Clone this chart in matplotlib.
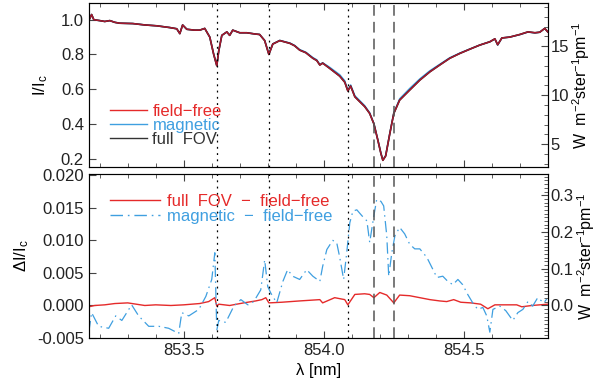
import numpy as np
import matplotlib
matplotlib.use("Agg")
import matplotlib.pyplot as plt
from matplotlib.lines import Line2D
from matplotlib.ticker import MultipleLocator

plt.rcParams["font.family"] = ["Liberation Sans", "DejaVu Sans"]
plt.rcParams["font.size"] = 12
plt.rcParams["mathtext.fontset"] = "custom"
plt.rcParams["mathtext.rm"] = "Liberation Sans"
plt.rcParams["mathtext.it"] = "Liberation Sans"

# continuum intensity used for the right-hand axes (W m^-2 ster^-1 pm^-1)
i_cont = 17.7

# line positions marked in both panels [nm]
dotted_lines = [853.618, 853.804, 854.086]
dashed_lines = [854.179, 854.250]

# upper panel: mean profiles, I/Ic
wl_top = [853.161, 853.164, 853.171, 853.179, 853.200, 853.218, 853.236, 853.254,
          853.271, 853.318, 853.361, 853.404, 853.450, 853.475, 853.486, 853.496,
          853.511, 853.539, 853.557, 853.575, 853.593, 853.607, 853.618, 853.625,
          853.636, 853.654, 853.664, 853.675, 853.700, 853.725, 853.754, 853.771,
          853.789, 853.804, 853.818, 853.843, 853.879, 853.896, 853.914, 853.936,
          853.961, 853.975, 853.986, 853.996, 854.021, 854.057, 854.075, 854.086,
          854.096, 854.111, 854.129, 854.146, 854.164, 854.179, 854.193, 854.204,
          854.211, 854.221, 854.236, 854.250, 854.271, 854.307, 854.343, 854.379,
          854.414, 854.450, 854.486, 854.521, 854.557, 854.593, 854.611, 854.621,
          854.636, 854.664, 854.700, 854.729, 854.754, 854.771, 854.789, 854.800]
i_field_free = [1.000, 1.005, 1.030, 1.000, 0.995, 0.990, 0.995, 0.985,
                0.980, 0.978, 0.970, 0.965, 0.955, 0.948, 0.920, 0.970,
                0.945, 0.940, 0.940, 0.950, 0.900, 0.800, 0.735, 0.820,
                0.910, 0.930, 0.910, 0.940, 0.925, 0.925, 0.918, 0.915,
                0.880, 0.800, 0.860, 0.880, 0.864, 0.850, 0.825, 0.810,
                0.778, 0.765, 0.739, 0.750, 0.720, 0.675, 0.640, 0.590,
                0.618, 0.556, 0.527, 0.500, 0.460, 0.400, 0.307, 0.230,
                0.190, 0.215, 0.345, 0.460, 0.537, 0.595, 0.652, 0.700,
                0.739, 0.778, 0.806, 0.830, 0.854, 0.873, 0.890, 0.856,
                0.895, 0.900, 0.915, 0.930, 0.925, 0.928, 0.950, 0.930]
i_magnetic = [1.000, 1.005, 1.030, 1.000, 0.995, 0.990, 0.995, 0.985,
              0.980, 0.978, 0.970, 0.965, 0.955, 0.948, 0.920, 0.970,
              0.945, 0.940, 0.940, 0.950, 0.900, 0.802, 0.737, 0.820,
              0.910, 0.930, 0.910, 0.940, 0.925, 0.925, 0.918, 0.915,
              0.881, 0.802, 0.861, 0.881, 0.866, 0.852, 0.828, 0.813,
              0.782, 0.769, 0.742, 0.752, 0.726, 0.683, 0.648, 0.592,
              0.624, 0.562, 0.533, 0.505, 0.464, 0.402, 0.309, 0.232,
              0.192, 0.217, 0.347, 0.462, 0.544, 0.604, 0.659, 0.706,
              0.743, 0.781, 0.808, 0.831, 0.854, 0.873, 0.889, 0.854,
              0.895, 0.900, 0.914, 0.929, 0.924, 0.928, 0.950, 0.930]
# full FOV differs from field-free by less than the line width
i_full_fov = list(i_field_free)

# lower panel: differences, dI/Ic
wl_full = [853.161, 853.182, 853.218, 853.254, 853.300, 853.361, 853.400, 853.454,
           853.500, 853.557, 853.589, 853.611, 853.618, 853.625, 853.664, 853.714,
           853.757, 853.779, 853.793, 853.804, 853.850, 853.914, 853.986, 853.996,
           854.039, 854.075, 854.086, 854.111, 854.146, 854.164, 854.179, 854.200,
           854.225, 854.250, 854.271, 854.307, 854.343, 854.379, 854.414, 854.439,
           854.464, 854.489, 854.525, 854.560, 854.586, 854.611, 854.636, 854.689,
           854.707, 854.743, 854.800]
d_full = [-0.0002, 0.0000, 0.0001, 0.0003, 0.0004, 0.0000, 0.0001, 0.0000,
          0.0001, 0.0003, 0.0006, 0.0012, -0.0001, 0.0002, 0.0000, 0.0004,
          0.0007, 0.0009, 0.0012, 0.0004, 0.0005, 0.0007, 0.0009, 0.0004,
          0.0012, 0.0009, 0.0001, 0.0017, 0.0018, 0.0017, 0.0012, 0.0020,
          0.0016, 0.0004, 0.0016, 0.0015, 0.0012, 0.0009, 0.0007, 0.0006,
          0.0009, 0.0005, 0.0004, 0.0002, -0.0005, 0.0001, 0.0001, 0.0001,
          -0.0002, 0.0000, 0.0002]

wl_mag = [853.161, 853.171, 853.196, 853.232, 853.257, 853.279, 853.314, 853.339,
          853.375, 853.411, 853.446, 853.482, 853.493, 853.518, 853.554, 853.579,
          853.600, 853.611, 853.618, 853.625, 853.650, 853.679, 853.704, 853.729,
          853.750, 853.775, 853.789, 853.800, 853.811, 853.832, 853.854, 853.871,
          853.889, 853.914, 853.939, 853.961, 853.986, 853.996, 854.011, 854.032,
          854.046, 854.057, 854.071, 854.082, 854.093, 854.104, 854.118, 854.136,
          854.154, 854.164, 854.179, 854.189, 854.204, 854.214, 854.225, 854.232,
          854.243, 854.254, 854.271, 854.289, 854.307, 854.325, 854.343, 854.368,
          854.389, 854.404, 854.425, 854.443, 854.461, 854.479, 854.496, 854.514,
          854.532, 854.550, 854.568, 854.582, 854.593, 854.604, 854.629, 854.650,
          854.675, 854.693, 854.711, 854.729, 854.746, 854.764, 854.786, 854.796]
d_mag = [-0.0041, -0.0011, -0.0032, -0.0035, -0.0016, -0.0023, 0.0001, -0.0016,
         -0.0032, -0.0032, -0.0035, -0.0043, -0.0011, -0.0016, -0.0006, 0.0014,
         0.0040, 0.0081, -0.0038, -0.0023, -0.0026, -0.0001, 0.0009, 0.0001,
         0.0006, 0.0024, 0.0070, 0.0029, 0.0019, 0.0004, 0.0037, 0.0055,
         0.0045, 0.0040, 0.0055, 0.0045, 0.0037, 0.0060, 0.0086, 0.0100,
         0.0097, 0.0074, 0.0040, 0.0081, 0.0127, 0.0145, 0.0147, 0.0138,
         0.0130, 0.0097, 0.0138, 0.0163, 0.0160, 0.0153, 0.0107, 0.0045,
         0.0081, 0.0107, 0.0120, 0.0110, 0.0094, 0.0087, 0.0087, 0.0074,
         0.0056, 0.0043, 0.0045, 0.0037, 0.0032, 0.0040, 0.0032, 0.0017,
         0.0004, -0.0006, -0.0003, -0.0016, -0.0041, -0.0006, -0.0001, -0.0008,
         -0.0023, -0.0011, -0.0006, 0.0006, -0.0001, 0.0012, 0.0004, 0.0010]

red = "#e52a2a"
blue = "#3f9fe0"
dark = "#333333"
axcol = "#444444"
mag_dash = (9, 3.5, 1.2, 3.5)

fig = plt.figure(figsize=(6, 3.85), dpi=100)
ax1 = fig.add_axes([0.148, 0.566, 0.765, 0.426])
ax2 = fig.add_axes([0.148, 0.122, 0.765, 0.426], sharex=ax1)

# --- upper panel
ax1.plot(wl_top, i_magnetic, color=blue, lw=1.1)
ax1.plot(wl_top, i_full_fov, color="black", lw=1.2)
ax1.plot(wl_top, i_field_free, color="#d0203a", lw=1.1, alpha=0.8)

# --- lower panel
ax2.plot(wl_full, d_full, color=red, lw=1.0)
ax2.plot(wl_mag, d_mag, color=blue, lw=0.9, dashes=mag_dash)

for ax in (ax1, ax2):
    for w in dotted_lines:
        ax.axvline(w, color="black", lw=0.9, ls=(0, (1.5, 3.5)))
    for w in dashed_lines:
        ax.axvline(w, color="#555555", lw=1.1, ls=(0, (7, 4)))

ax1.set_xlim(853.161, 854.80)
ax1.set_ylim(0.151, 1.096)
ax2.set_ylim(-0.005, 0.0202)

ax1.set_ylabel("I/I$_c$", labelpad=8)
ax2.set_ylabel("ΔI/I$_c$", labelpad=4)
ax2.set_xlabel("λ [nm]", labelpad=4)

ax1.yaxis.set_major_locator(MultipleLocator(0.2))
ax2.yaxis.set_major_locator(MultipleLocator(0.005))
ax2.yaxis.set_major_formatter(plt.FormatStrFormatter("%.3f"))
ax1.yaxis.set_major_formatter(plt.FormatStrFormatter("%.1f"))
ax2.xaxis.set_major_locator(MultipleLocator(0.5))
ax2.xaxis.set_minor_locator(MultipleLocator(0.1))
ax2.xaxis.set_major_formatter(plt.FormatStrFormatter("%.1f"))
plt.setp(ax1.get_xticklabels(), visible=False)

for ax in (ax1, ax2):
    ax.tick_params(which="both", direction="in", top=True, right=False, colors=axcol,
                   labelcolor="#222222")
    ax.tick_params(which="major", length=5)
    ax.tick_params(which="minor", length=3)
    for s in ax.spines.values():
        s.set_color(axcol)

# right-hand axes in physical units
r1 = ax1.twinx()
r1.set_ylim(0.151 * i_cont, 1.096 * i_cont)
r1.yaxis.set_major_locator(MultipleLocator(5))
r1.yaxis.set_minor_locator(MultipleLocator(1))
r2 = ax2.twinx()
r2.set_ylim(-0.005 * i_cont, 0.0202 * i_cont)
r2.yaxis.set_major_locator(MultipleLocator(0.1))
r2.yaxis.set_minor_locator(MultipleLocator(0.01))
r2.yaxis.set_major_formatter(plt.FormatStrFormatter("%.1f"))
for r in (r1, r2):
    r.tick_params(which="both", direction="in", colors=axcol, labelcolor="#222222",
                  pad=2)
    r.tick_params(which="major", length=5)
    r.tick_params(which="minor", length=3)
    r.set_ylabel("W  m$^{-2}$ster$^{-1}$pm$^{-1}$", labelpad=1, fontsize=11.5)

# legends
h1 = [Line2D([], [], color=red, lw=1.0), Line2D([], [], color=blue, lw=1.0),
      Line2D([], [], color=dark, lw=1.0)]
ax1.legend(h1, ["field−free", "magnetic", "full  FOV"], loc="lower left",
           bbox_to_anchor=(0.028, 0.07), frameon=False, handlelength=2.2,
           handletextpad=0.35, labelspacing=-0.05, borderpad=0,
           labelcolor=[red, blue, dark])

h2 = [Line2D([], [], color=red, lw=1.0),
      Line2D([], [], color=blue, lw=1.0, dashes=mag_dash)]
ax2.legend(h2, ["full  FOV  −  field−free", "magnetic  −  field−free"],
           loc="upper left", bbox_to_anchor=(0.028, 0.93), frameon=False,
           handlelength=3.0, handletextpad=0.4, labelspacing=0.02, borderpad=0,
           labelcolor=[red, blue])

fig.savefig("out.png", dpi=100)
